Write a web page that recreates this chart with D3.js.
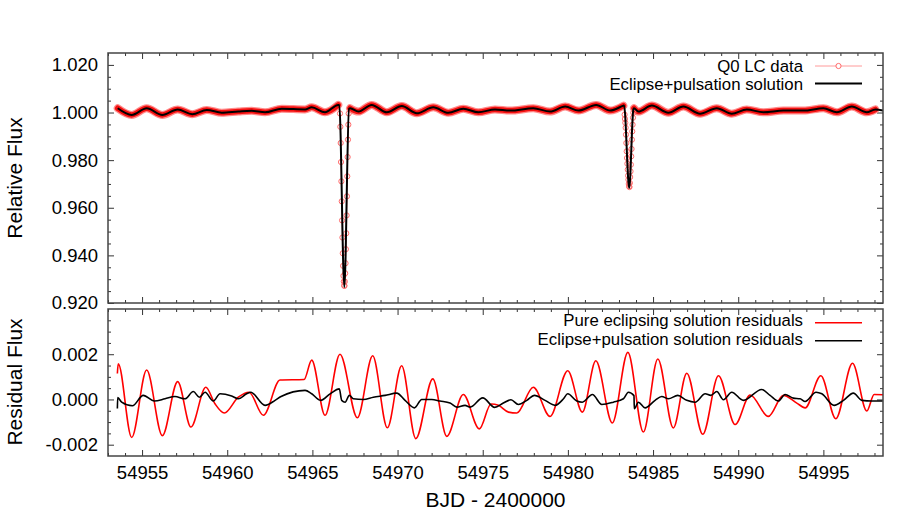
<!DOCTYPE html>
<html><head><meta charset="utf-8">
<script src="https://cdn.jsdelivr.net/npm/d3@7"></script>
<style>body{margin:0;background:#fff}svg{display:block;font-family:"Liberation Sans",Arial,Helvetica,sans-serif}</style>
</head><body><svg id="c" width="915" height="513"></svg>
<script>
// ---- Light curve (out of eclipse) ----
const lcDays = [54953.57,54954.39,54955.27,54956.19,54957.09,54957.95,54958.80,54959.68,54960.65,54961.44,
  54962.22,54963.20,54964.57,54964.96,54965.74,54966.52,54967.21,54967.70,54968.48,54969.37,
  54970.25,54971.13,54972.10,54972.98,54973.86,54974.74,54975.72,54976.61,54977.97,54978.95,
  54979.84,54980.62,54981.66,54982.48,54983.26,54983.88,54984.14,54984.93,54985.90,54986.78,
  54987.76,54988.74,54989.62,54990.50,54991.48,54992.65,54993.83,54995.00,54995.79,54996.67,
  54997.55,54998.05];
const lcFlux = [1.0018,0.9990,1.0018,0.9990,1.0013,0.9993,1.0011,0.9999,1.0004,1.0007,
  1.0001,1.0016,1.0013,1.0022,1.0001,1.0032,1.0018,1.0004,1.0032,1.0001,
  1.0027,0.9997,1.0022,0.9999,1.0016,1.0001,1.0013,1.0008,1.0018,1.0004,
  1.0025,1.0008,1.0032,1.0008,1.0029,1.0018,1.0004,1.0029,0.9999,1.0025,
  0.9995,1.0018,0.9995,1.0013,1.0001,1.0008,1.0008,1.0018,1.0001,1.0025,
  1.0001,1.0013];
// ---- Primary eclipse data points ----
const ecl1Days = [54966.620,54966.640,54966.661,54966.681,54966.702,54966.722,54966.742,54966.763,54966.783,54966.804,
  54966.824,54966.844,54966.865,54966.885,54966.906,54966.926,54966.946,54966.967,54966.987,54967.008,
  54967.028,54967.048,54967.069,54967.089,54967.110,54967.130];
const ecl1Flux = [0.9996,0.9940,0.9872,0.9792,0.9711,0.9627,0.9547,0.9475,0.9409,0.9356,
  0.9314,0.9290,0.9273,0.9272,0.9290,0.9325,0.9367,0.9426,0.9493,0.9568,
  0.9648,0.9732,0.9813,0.9886,0.9949,0.9996];
// ---- Secondary eclipse data points ----
const ecl2Days = [54983.330,54983.350,54983.371,54983.391,54983.412,54983.432,54983.452,54983.473,54983.493,54983.514,
  54983.534,54983.554,54983.575,54983.595,54983.616,54983.636,54983.656,54983.677,54983.697,54983.718,
  54983.738,54983.758,54983.779,54983.799,54983.820,54983.840];
const ecl2Flux = [0.9991,0.9973,0.9957,0.9936,0.9907,0.9872,0.9837,0.9809,0.9785,0.9760,
  0.9735,0.9718,0.9700,0.9690,0.9687,0.9704,0.9729,0.9753,0.9781,0.9816,
  0.9847,0.9886,0.9921,0.9949,0.9978,0.9999];
// ---- Eclipse+pulsation model: extra vertices (eclipse V shapes, end) ----
const modelExtraDays = [54966.58,54966.875,54967.15,54983.30,54983.60,54983.84,54998.50];
const modelExtraFlux = [1.0032,0.9267,1.0016,1.0030,0.9683,1.0012,1.0008];

// ---- Residuals: pure eclipsing solution ----
const pureDays = [54953.55,54953.60,54954.39,54955.27,54956.19,54957.09,54957.87,54958.74,54959.28,54959.83,
  54960.65,54961.28,54962.12,54963.10,54964.51,54964.96,54965.74,54966.62,54967.64,54968.54,
  54969.40,54970.24,54971.07,54972.07,54972.89,54973.86,54974.80,54975.49,54975.92,54976.51,
  54977.00,54977.97,54978.95,54979.99,54980.85,54981.64,54982.61,54983.52,54984.43,54985.28,
  54986.19,54986.98,54987.92,54988.84,54989.82,54990.70,54991.77,54992.65,54993.44,54993.93,
  54994.85,54995.73,54996.71,54997.55,54997.98,54998.50];
const pureRes = [0.00115,0.00158,-0.00168,0.00130,-0.00160,0.00079,-0.00122,0.00054,-0.00019,-0.00060,
  0.00010,0.00032,-0.00070,0.00086,0.00088,0.00174,-0.00070,0.00200,-0.00081,0.00193,
  -0.00125,0.00149,-0.00173,0.00091,-0.00163,0.00022,-0.00130,-0.00020,-0.00026,-0.00056,
  -0.00060,0.00054,-0.00075,0.00127,-0.00056,0.00171,-0.00104,0.00208,-0.00144,0.00179,
  -0.00126,0.00116,-0.00154,0.00105,-0.00111,0.00020,-0.00075,0.00018,-0.00016,-0.00037,
  0.00105,-0.00085,0.00160,-0.00051,0.00022,0.00021];
// ---- Residuals: eclipse+pulsation solution ----
const fullDays = [54953.55,54953.57,54953.80,54954.43,54955.07,54955.72,54956.35,54956.93,54957.52,54958.01,
  54958.36,54958.70,54959.18,54959.58,54960.26,54960.65,54961.14,54961.38,54962.22,54962.81,
  54963.16,54964.57,54964.96,54965.49,54966.04,54966.58,54966.72,54966.92,54967.17,54967.40,
  54967.99,54968.58,54969.27,54969.95,54970.44,54970.99,54971.42,54972.01,54972.49,54973.08,
  54973.48,54973.96,54974.26,54975.00,54975.70,54976.21,54976.66,54977.09,54977.59,54978.03,
  54978.66,54979.25,54979.74,54979.99,54980.52,54980.85,54981.44,54981.99,54982.67,54983.26,
  54983.55,54983.88,54983.90,54984.14,54984.53,54985.12,54985.51,54985.90,54986.45,54986.98,
  54987.47,54988.06,54988.39,54988.74,54989.13,54989.62,54990.30,54991.38,54991.87,54992.36,
  54992.75,54993.24,54993.63,54993.93,54994.57,54994.91,54995.63,54996.18,54996.76,54997.26,
  54997.84,54998.49];
const fullRes = [-0.00040,0.00008,-0.00012,-0.00028,0.00018,-0.00007,0.00003,0.00013,0.00003,0.00035,
  0.00010,0.00032,-0.00007,0.00025,0.00015,0.00003,0.00025,0.00032,-0.00026,-0.00004,
  0.00013,0.00040,0.00025,-0.00004,0.00025,0.00047,-0.00004,-0.00012,0.00018,0.00003,
  0.00000,0.00010,0.00018,0.00028,-0.00004,-0.00037,0.00000,0.00000,-0.00007,-0.00016,
  -0.00034,-0.00026,-0.00034,0.00007,-0.00035,-0.00016,-0.00001,-0.00022,-0.00004,0.00018,
  -0.00004,-0.00026,0.00003,0.00025,-0.00007,-0.00012,0.00022,-0.00022,-0.00012,0.00003,
  0.00032,0.00017,-0.00041,-0.00012,-0.00037,-0.00004,0.00013,0.00003,0.00018,-0.00004,
  -0.00012,0.00025,0.00018,0.00035,-0.00001,0.00032,-0.00004,0.00044,0.00018,-0.00007,
  0.00022,0.00006,0.00003,-0.00009,0.00032,0.00025,-0.00026,-0.00004,0.00028,-0.00004,
  -0.00007,-0.00007];

// ---- Ticks ----
const xMajor = [54955,54960,54965,54970,54975,54980,54985,54990,54995];
const xMinor = [54953,54954,54956,54957,54958,54959,54961,54962,54963,54964,54966,54967,54968,54969,
  54971,54972,54973,54974,54976,54977,54978,54979,54981,54982,54983,54984,54986,54987,54988,54989,
  54991,54992,54993,54994,54996,54997,54998];
const yTopMajor = [0.920,0.940,0.960,0.980,1.000,1.020];
const yTopMinor = [0.925,0.930,0.935,0.945,0.950,0.955,0.965,0.970,0.975,0.985,0.990,0.995,1.005,1.010,1.015];
const yBotMajor = [-0.002,0.000,0.002];
const yBotMinor = [-0.0015,-0.0010,-0.0005,0.0005,0.0010,0.0015,0.0025,0.0030,0.0035];

const legendTop = ["Q0 LC data","Eclipse+pulsation solution"];
const legendBot = ["Pure eclipsing solution residuals","Eclipse+pulsation solution residuals"];

// ---- Layout ----
const L = 108, R = 883;
const T1 = 53, B1 = 303, T2 = 309, B2 = 456;
const svg = d3.select("#c");
svg.append("rect").attr("width",915).attr("height",513).attr("fill","#fff");

const x = d3.scaleLinear([54953, 54998.5], [L, R]);
const yTop = d3.scaleLinear([0.92, 1.025], [B1, T1]);
const yBot = d3.scaleLinear([-0.0025, 0.004], [B2, T2]);

const defs = svg.append("defs");
defs.append("clipPath").attr("id","cp1").append("rect").attr("x",L).attr("y",T1).attr("width",R-L).attr("height",B1-T1);
defs.append("clipPath").attr("id","cp2").append("rect").attr("x",L).attr("y",T2).attr("width",R-L).attr("height",B2-T2);

const tickColor = "#333";
function drawAxes(y, top, yMaj, yMin, fmt) {
  const g = svg.append("g");
  const add = (axis, tx, ty) => {
    const a = g.append("g").attr("transform",`translate(${tx},${ty})`).call(axis);
    a.select(".domain").remove();
    a.selectAll("line").attr("stroke",tickColor).attr("stroke-width",1);
    a.selectAll("text").attr("fill","#000").style("font-size","18.5px").style("font-family",'"Liberation Sans",Arial,sans-serif');
    return a;
  };
  add(d3.axisLeft(y).tickValues(yMaj).tickSizeInner(-6).tickSizeOuter(0).tickPadding(10).tickFormat(fmt), L, 0);
  add(d3.axisLeft(y).tickValues(yMin).tickSizeInner(-3).tickSizeOuter(0).tickFormat(""), L, 0);
  add(d3.axisRight(y).tickValues(yMaj).tickSizeInner(-6).tickSizeOuter(0).tickFormat(""), R, 0);
  add(d3.axisRight(y).tickValues(yMin).tickSizeInner(-3).tickSizeOuter(0).tickFormat(""), R, 0);
  add(d3.axisTop(x).tickValues(xMajor).tickSizeInner(-6).tickSizeOuter(0).tickFormat(""), 0, top);
  add(d3.axisTop(x).tickValues(xMinor).tickSizeInner(-3).tickSizeOuter(0).tickFormat(""), 0, top);
  return g;
}

// ===== Top panel =====
const fmt3 = d => d.toFixed(3);
drawAxes(yTop, T1, yTopMajor, yTopMinor, fmt3);
{
  const g = svg.append("g");
  const a1 = g.append("g").attr("transform",`translate(0,${B1})`).call(d3.axisBottom(x).tickValues(xMajor).tickSizeInner(-6).tickSizeOuter(0).tickFormat(""));
  const a2 = g.append("g").attr("transform",`translate(0,${B1})`).call(d3.axisBottom(x).tickValues(xMinor).tickSizeInner(-3).tickSizeOuter(0).tickFormat(""));
  [a1,a2].forEach(a=>{a.select(".domain").remove();a.selectAll("line").attr("stroke",tickColor);});
}

const lc = lcDays.map((d,i)=>({d, v: lcFlux[i]}));
const e1 = ecl1Days.map((d,i)=>({d, v: ecl1Flux[i]}));
const e2 = ecl2Days.map((d,i)=>({d, v: ecl2Flux[i]}));
const allData = lc.concat(e1, e2).sort((a,b)=>a.d-b.d);
const model = lc.concat(modelExtraDays.map((d,i)=>({d, v: modelExtraFlux[i]}))).sort((a,b)=>a.d-b.d);
const eclMid = [d3.least(e1,(p)=>p.v).d, d3.least(e2,(p)=>p.v).d];

// split out-of-eclipse data into continuous segments
const segs = [[]];
lc.forEach((p,i)=>{
  if (i>0 && eclMid.some(m=>m>lc[i-1].d && m<p.d)) segs.push([]);
  segs[segs.length-1].push(p);
});

const p1 = svg.append("g").attr("clip-path","url(#cp1)");
const lineTop = d3.line().x(p=>x(p.d)).y(p=>yTop(p.v)).curve(d3.curveMonotoneX);
const lineLin = d3.line().x(p=>x(p.d)).y(p=>yTop(p.v));
p1.append("path").attr("d",lineLin(allData)).attr("fill","none").attr("stroke","#ff9a9a").attr("stroke-width",1);
segs.forEach(s=>{
  p1.append("path").attr("d",lineTop(s)).attr("fill","none").attr("stroke","#ff8c8c").attr("stroke-width",8).attr("stroke-linecap","round");
  p1.append("path").attr("d",lineTop(s)).attr("fill","none").attr("stroke","#f51010").attr("stroke-width",5.5).attr("stroke-linecap","round");
});
p1.selectAll("circle.ecl").data(e1.concat(e2)).join("circle").attr("class","ecl")
  .attr("cx",p=>x(p.d)).attr("cy",p=>yTop(p.v)).attr("r",2.6)
  .attr("fill","none").attr("stroke","#ff6a6a").attr("stroke-width",1);
p1.append("path").attr("d",lineTop(model)).attr("fill","none").attr("stroke","#000").attr("stroke-width",2);

svg.append("rect").attr("x",L).attr("y",T1).attr("width",R-L).attr("height",B1-T1)
  .attr("fill","none").attr("stroke","#444").attr("stroke-width",1.5);

// legend top
{
  const lg = svg.append("g").style("font-size","16.8px");
  lg.append("text").attr("x",803).attr("y",71.5).attr("text-anchor","end").text(legendTop[0]);
  lg.append("line").attr("x1",815).attr("x2",862).attr("y1",66).attr("y2",66).attr("stroke","#ff9a9a").attr("stroke-width",1);
  lg.append("circle").attr("cx",838.5).attr("cy",66).attr("r",2.6).attr("fill","#fff").attr("stroke","#ff6a6a");
  lg.append("text").attr("x",803).attr("y",90.3).attr("text-anchor","end").text(legendTop[1]);
  lg.append("line").attr("x1",815).attr("x2",862).attr("y1",83.5).attr("y2",83.5).attr("stroke","#000").attr("stroke-width",2);
}

// ===== Bottom panel =====
drawAxes(yBot, T2, yBotMajor, yBotMinor, fmt3);
{
  const g = svg.append("g");
  const a1 = g.append("g").attr("transform",`translate(0,${B2})`).call(d3.axisBottom(x).tickValues(xMajor).tickSizeInner(-6).tickSizeOuter(0).tickPadding(10).tickFormat(d3.format("d")));
  const a2 = g.append("g").attr("transform",`translate(0,${B2})`).call(d3.axisBottom(x).tickValues(xMinor).tickSizeInner(-3).tickSizeOuter(0).tickFormat(""));
  [a1,a2].forEach(a=>{a.select(".domain").remove();a.selectAll("line").attr("stroke",tickColor);});
  a1.selectAll("text").attr("fill","#000").style("font-size","18.5px");
}
const p2 = svg.append("g").attr("clip-path","url(#cp2)");
const lineBot = d3.line().x(p=>x(p.d)).y(p=>yBot(p.v)).curve(d3.curveMonotoneX);
p2.append("path").attr("d",lineBot(pureDays.map((d,i)=>({d,v:pureRes[i]})))).attr("fill","none").attr("stroke","#f00").attr("stroke-width",1.6);
p2.append("path").attr("d",lineBot(fullDays.map((d,i)=>({d,v:fullRes[i]})))).attr("fill","none").attr("stroke","#000").attr("stroke-width",1.6);

svg.append("rect").attr("x",L).attr("y",T2).attr("width",R-L).attr("height",B2-T2)
  .attr("fill","none").attr("stroke","#444").attr("stroke-width",1.5);

{
  const lg = svg.append("g").style("font-size","16.8px");
  lg.append("text").attr("x",803).attr("y",326.3).attr("text-anchor","end").text(legendBot[0]);
  lg.append("line").attr("x1",815).attr("x2",862).attr("y1",322.7).attr("y2",322.7).attr("stroke","#f00").attr("stroke-width",1.6);
  lg.append("text").attr("x",803).attr("y",345.1).attr("text-anchor","end").text(legendBot[1]);
  lg.append("line").attr("x1",815).attr("x2",862).attr("y1",340.7).attr("y2",340.7).attr("stroke","#000").attr("stroke-width",1.6);
}

// ===== Axis titles =====
svg.append("text").attr("transform","translate(21.5,178) rotate(-90)").attr("text-anchor","middle").style("font-size","21px").text("Relative Flux");
svg.append("text").attr("transform","translate(21.5,382) rotate(-90)").attr("text-anchor","middle").style("font-size","21px").text("Residual Flux");
svg.append("text").attr("x",(L+R)/2).attr("y",506.5).attr("text-anchor","middle").style("font-size","21px").text("BJD - 2400000");
</script>
</body></html>
